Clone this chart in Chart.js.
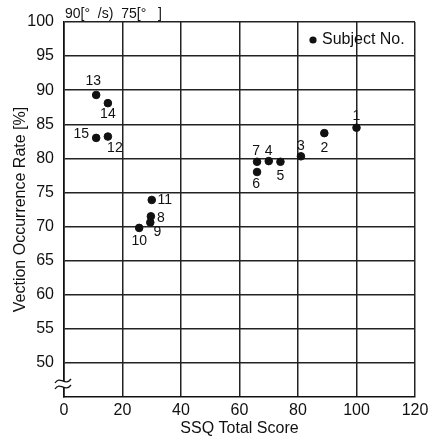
<!DOCTYPE html>
<html>
<head>
<meta charset="utf-8">
<script src="https://cdn.jsdelivr.net/npm/chart.js@4"></script>
<style>
  html, body { margin: 0; padding: 0; background: #fff; }
  #wrap { width: 428px; height: 440px; }
</style>
</head>
<body>
<div id="wrap"><canvas id="chart"></canvas></div>
<script>
// --- DATA ---
const subjects = ['1', '2', '3', '4', '5', '6', '7', '8', '9', '10', '11', '12', '13', '14', '15'];
const ssqScores = [100, 89, 81, 70, 74, 66, 66, 29.7, 29.5, 25.7, 30, 15, 11, 15, 11];
const vectionRates = [84.5, 83.7, 80.3, 79.6, 79.5, 78.0, 79.5, 71.5, 70.6, 69.8, 73.9, 83.2, 89.3, 88.1, 83.0];
const xTicks = [0, 20, 40, 60, 80, 100, 120];
const yTicks = [50, 55, 60, 65, 70, 75, 80, 85, 90, 95, 100];

// label offsets from each point (px)
const labelOffsets = [
  [0, -12], [0, 15], [0, -10], [0, -10], [0, 14], [-1, 12], [-1, -11], [10, 2],
  [7, 10], [0, 13], [13, 0], [7, 12], [-3, -14], [0, 11], [-15, -4]
];

const FONT = 'Liberation Sans, Arial, sans-serif';

// --- DECORATION PLUGIN: point numbers, header, legend, axis break ---
const decor = {
  id: 'decor',
  afterDatasetsDraw(chart) {
    const ctx = chart.ctx;
    const meta = chart.getDatasetMeta(0);
    const area = chart.chartArea;
    ctx.save();
    ctx.fillStyle = '#111';
    ctx.font = '14px ' + FONT;
    ctx.textAlign = 'center';
    ctx.textBaseline = 'middle';
    meta.data.forEach((pt, i) => {
      const off = labelOffsets[i];
      ctx.fillText(subjects[i], pt.x + off[0], pt.y + off[1]);
    });

    // header text above plot
    ctx.textAlign = 'left';
    ctx.textBaseline = 'alphabetic';
    ctx.font = '14px ' + FONT;
    ctx.fillText('90[°  /s)  75[°   ]', area.left + 1, area.top - 4);

    // legend (top right, inside plot)
    ctx.beginPath();
    ctx.arc(area.right - 102, area.top + 18, 3.6, 0, Math.PI * 2);
    ctx.fill();
    ctx.font = '16px ' + FONT;
    ctx.textBaseline = 'middle';
    ctx.fillText('Subject No.', area.right - 93, area.top + 18);

    // axis break mark
    const bx = area.left, by = area.bottom - 13;
    ctx.fillStyle = '#fff';
    ctx.fillRect(bx - 3, by - 3, 6, 6);
    ctx.strokeStyle = '#111';
    ctx.lineWidth = 1.3;
    [-3, 3].forEach(d => {
      ctx.beginPath();
      ctx.moveTo(bx - 9, by + d + 2);
      ctx.bezierCurveTo(bx - 4, by + d - 6, bx + 1, by + d + 6, bx + 7, by + d - 2);
      ctx.stroke();
    });
    ctx.restore();
  }
};

const ctx = document.getElementById('chart').getContext('2d');
new Chart(ctx, {
  type: 'scatter',
  data: {
    datasets: [{
      label: 'Subject No.',
      data: ssqScores.map((x, i) => ({ x: x, y: vectionRates[i] })),
      backgroundColor: '#111',
      borderColor: '#111',
      pointRadius: 3.8,
      pointHoverRadius: 3.8
    }]
  },
  options: {
    responsive: true,
    maintainAspectRatio: false,
    animation: false,
    layout: { padding: { top: 22, right: 13, left: 0, bottom: 0 } },
    scales: {
      x: {
        type: 'linear',
        min: 0,
        max: 120,
        afterBuildTicks: s => { s.ticks = xTicks.map(v => ({ value: v })); },
        afterFit: s => { s.height = 43; s.paddingRight = 0; s.paddingLeft = 0; },
        grid: { color: '#222', lineWidth: 1.5, drawTicks: false },
        border: { color: '#111', width: 1.6 },
        ticks: { color: '#111', font: { family: FONT, size: 16 }, padding: 4 },
        title: {
          display: true,
          text: 'SSQ Total Score',
          color: '#111',
          font: { family: FONT, size: 16 },
          padding: { top: 0, bottom: 2 }
        }
      },
      y: {
        min: 45,
        max: 100,
        afterBuildTicks: s => { s.ticks = [45].concat(yTicks).map(v => ({ value: v })); },
        afterFit: s => { s.width = 64; s.paddingTop = 0; s.paddingBottom = 0; },
        grid: {
          color: c => c.tick && c.tick.value === 45 ? 'rgba(0,0,0,0)' : '#222',
          lineWidth: 1.5,
          drawTicks: false
        },
        border: { color: '#111', width: 1.6 },
        ticks: {
          color: '#111',
          font: { family: FONT, size: 16 },
          padding: 10,
          callback: v => v === 45 ? '' : v
        },
        title: {
          display: true,
          text: 'Vection Occurrence Rate [%]',
          color: '#111',
          font: { family: FONT, size: 16 },
          padding: { top: 11, bottom: 0 }
        }
      }
    },
    plugins: {
      legend: { display: false },
      tooltip: { enabled: false }
    }
  },
  plugins: [decor]
});
</script>
</body>
</html>
